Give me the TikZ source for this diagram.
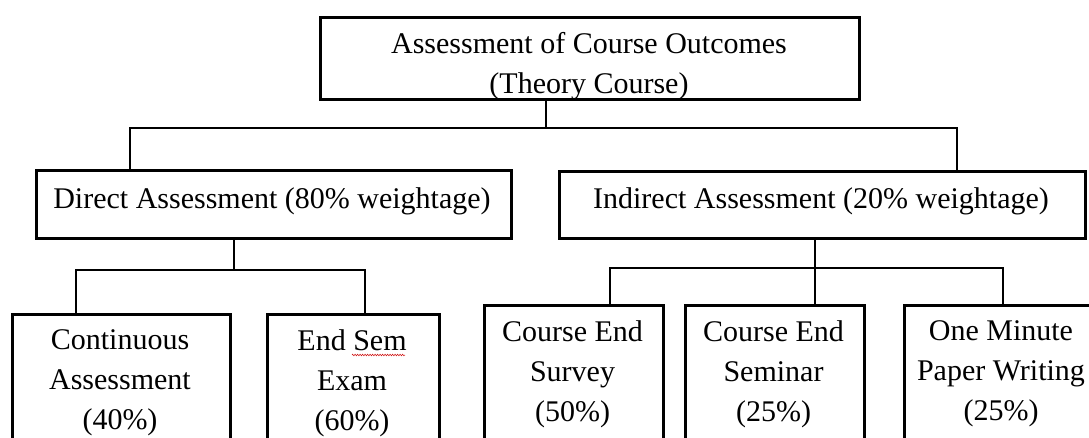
\documentclass[tikz,border=0pt]{standalone}
\usepackage{fontspec}
\setmainfont{Liberation Serif}
\usetikzlibrary{decorations.pathmorphing}
\tikzset{
  box/.style={draw=black, line width=2.6pt, inner sep=0pt, anchor=north west},
  lbl/.style={inner sep=0pt, align=center, font=\fontsize{30}{40}\selectfont},
  conn/.style={draw=black, line width=2.6pt}
}
\begin{document}
\begin{tikzpicture}[x=1pt, y=-1pt]
\useasboundingbox (0,0) rectangle (1089,437);
\clip (0,0) rectangle (1089,437);
\fill[white] (0,0) rectangle (1089,437);
% boxes
\node[box, minimum width=539pt, minimum height=82pt] (top) at (319,16) {};
\node[box, minimum width=475pt, minimum height=68pt] (direct) at (35,169) {};
\node[box, minimum width=526pt, minimum height=67pt] (indirect) at (558,170) {};
\node[box, minimum width=218pt, minimum height=150pt] (cont) at (11,313) {};
\node[box, minimum width=172pt, minimum height=150pt] (endsem) at (266,313) {};
\node[box, minimum width=179pt, minimum height=160pt] (survey) at (483,304) {};
\node[box, minimum width=179pt, minimum height=160pt] (seminar) at (684,304) {};
\node[box, minimum width=197pt, minimum height=160pt] (minute) at (903,304) {};
% texts
\node[lbl] (topT) at (589,66) {Assessment of Course Outcomes\\(Theory Course)};
\node[lbl, anchor=base] (directT) at (272,208) {Direct Assessment (80\% weightage)};
\node[lbl, anchor=base] (indirectT) at (821,208) {Indirect Assessment (20\% weightage)};
\node[lbl] (contT) at (120,383) {Continuous\\Assessment\\(40\%)};
\node[lbl] (endsemT) at (352,383) {End Sem\\Exam\\(60\%)};
\node[lbl] (surveyT) at (572.5,374) {Course End\\Survey\\(50\%)};
\node[lbl] (seminarT) at (773.5,374) {Course End\\Seminar\\(25\%)};
\node[lbl] (minuteT) at (1001,374) {One Minute\\Paper Writing\\(25\%)};
% junctions
\coordinate (j1) at (546,128);
\coordinate (jL) at (130,128);
\coordinate (jR) at (957,128);
\coordinate (d1) at (234,270);
\coordinate (dL) at (76,270);
\coordinate (dR) at (365,270);
\coordinate (i1) at (815,268);
\coordinate (iL) at (610,268);
\coordinate (iR) at (1003,268);
% connectors
\draw[conn] (top.south -| j1) -- (j1);
\draw[conn] (direct.north -| jL) |- (jR) -- (indirect.north -| jR);
\draw[conn] (direct.south -| d1) -- (d1);
\draw[conn] (cont.north -| dL) |- (dR) -- (endsem.north -| dR);
\draw[conn] (indirect.south -| i1) -- (i1);
\draw[conn] (survey.north -| iL) |- (iR) -- (minute.north -| iR);
\draw[conn] (i1) -- (seminar.north -| i1);
% spell-check squiggle under "Sem"
\coordinate (sq1) at (352,355);
\coordinate (sq2) at (405,355);
\draw[red!80!black, line width=0.5pt, decorate, decoration={zigzag, amplitude=0.8pt, segment length=2.5pt}] (sq1) -- (sq2);
\end{tikzpicture}
\end{document}
